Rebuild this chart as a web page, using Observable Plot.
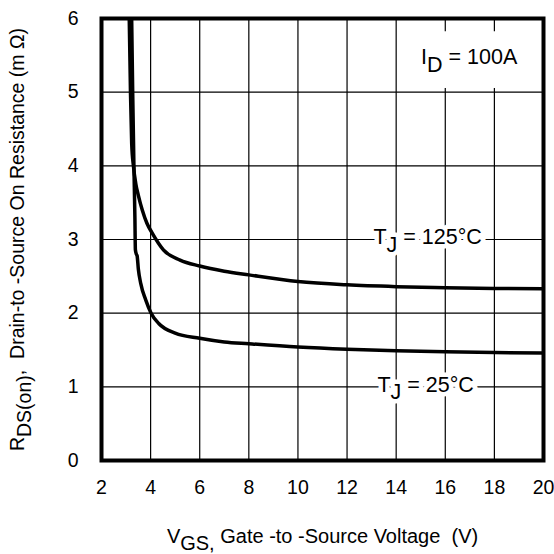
<!DOCTYPE html>
<html>
<head>
<meta charset="utf-8">
<script src="https://cdn.jsdelivr.net/npm/d3@7"></script>
<script src="https://cdn.jsdelivr.net/npm/@observablehq/plot@0.6"></script>
<style>
  html, body { margin: 0; padding: 0; background: #fff; }
  #chart svg { display: block; }
  #chart svg text { white-space: pre; }
</style>
</head>
<body>
<div id="chart"></div>
<script>
// ---- Data ----
const vgs25  = [3.22, 3.27, 3.32, 3.36, 3.38, 3.42, 3.45, 3.5, 3.6, 3.8, 4.02, 4.33, 5.0, 6, 7, 8, 10, 12, 14, 16, 18, 20];
const rds25  = [6.2, 5.0, 4.0, 3.3, 2.86, 2.8, 2.78, 2.6, 2.4, 2.18, 2.0, 1.86, 1.73, 1.66, 1.61, 1.585, 1.54, 1.51, 1.49, 1.475, 1.465, 1.46];
const vgs125 = [3.12, 3.18, 3.23, 3.3, 3.4, 3.5, 3.66, 3.85, 4.06, 4.52, 5.2, 6, 7, 8, 10, 12, 14, 16, 18, 20];
const rds125 = [6.2, 5.0, 4.3, 4.0, 3.75, 3.6, 3.4, 3.22, 3.09, 2.86, 2.72, 2.64, 2.57, 2.52, 2.43, 2.385, 2.36, 2.345, 2.335, 2.33];

const xTicks = [2, 4, 6, 8, 10, 12, 14, 16, 18, 20];
const yTicks = [0, 1, 2, 3, 4, 5, 6];

const curveLabels = ["T_{J} = 125°C", "T_{J} = 25°C"];
const curveLabelX = [15.28, 15.2];
const curveLabelY = [3, 1];

const condLabel = ["I_{D} = 100A"];
const condLabelX = [16.97];
const condLabelY = [5.47];
const condBoxX = [14.9, 19.9];
const condBoxY = [5.05, 5.82];

const xTitle = "V_{GS,} Gate -to -Source Voltage  (V)";
const yTitle = "R_{DS(on)},  Drain-to -Source On Resistance (m Ω)";

// ---- Build tables ----
const s25 = vgs25.map((v, i) => ({x: v, y: rds25[i]}));
const s125 = vgs125.map((v, i) => ({x: v, y: rds125[i]}));
const lab = curveLabels.map((t, i) => ({t, x: curveLabelX[i], y: curveLabelY[i]}));
const cond = condLabel.map((t, i) => ({t, x: condLabelX[i], y: condLabelY[i]}));
const box = [{x1: condBoxX[0], x2: condBoxX[1], y1: condBoxY[0], y2: condBoxY[1]}];

const FONT = "'Liberation Sans', Arial, Helvetica, sans-serif";

const chart = Plot.plot({
  width: 554,
  height: 554,
  marginLeft: 101,
  marginRight: 11,
  marginTop: 18,
  marginBottom: 94,
  style: {fontFamily: FONT, fontSize: "19.5px", background: "#fff", color: "#000"},
  x: {domain: [2, 20], ticks: xTicks},
  y: {domain: [0, 6], ticks: yTicks},
  marks: [
    Plot.gridX(xTicks, {stroke: "#000", strokeOpacity: 1, strokeWidth: 1.2}),
    Plot.gridY(yTicks, {stroke: "#000", strokeOpacity: 1, strokeWidth: 1.2}),
    Plot.rect(box, {x1: "x1", x2: "x2", y1: "y1", y2: "y2", fill: "#fff"}),
    Plot.line(s125, {x: "x", y: "y", stroke: "#000", strokeWidth: 3.5, curve: "monotone-x", clip: true}),
    Plot.line(s25, {x: "x", y: "y", stroke: "#000", strokeWidth: 3.5, curve: "monotone-x", clip: true}),
    Plot.text(lab, {x: "x", y: "y", text: "t", fontSize: 21.5, dy: -2, fill: "#000", stroke: "#fff", strokeWidth: 9, textAnchor: "middle"}),
    Plot.text(cond, {x: "x", y: "y", text: "t", fontSize: 21.5, fill: "#000", textAnchor: "middle"}),
    Plot.axisX(xTicks, {tickSize: 0, tickPadding: 20, label: null, fontSize: 19.5, tickFormat: d3.format("d")}),
    Plot.axisY(yTicks, {tickSize: 0, tickPadding: 23, label: null, fontSize: 19.5, tickFormat: d3.format("d")}),
    Plot.text([xTitle], {frameAnchor: "bottom", dy: 82, text: d => d, fontSize: 20, textAnchor: "middle"}),
    Plot.text([yTitle], {frameAnchor: "left", dx: -84, rotate: -90, text: d => d, fontSize: 19.5, textAnchor: "middle"}),
    Plot.frame({stroke: "#000", strokeWidth: 4})
  ]
});

// Render "_{...}" as subscripts with tspans (text stays real text)
const NS = "http://www.w3.org/2000/svg";
chart.querySelectorAll("text").forEach(el => {
  const s = el.textContent;
  if (!s.includes("_{")) return;
  const parts = s.split(/_\{([^}]*)\}/);
  el.textContent = "";
  let shifted = false;
  parts.forEach((p, i) => {
    const isSub = i % 2 === 1;
    if (p === "") return;
    const ts = document.createElementNS(NS, "tspan");
    ts.textContent = p;
    if (isSub && !shifted) { ts.setAttribute("dy", "0.35em"); shifted = true; }
    else if (!isSub && shifted) { ts.setAttribute("dy", "-0.35em"); shifted = false; }
    el.appendChild(ts);
  });
});

document.getElementById("chart").appendChild(chart);
</script>
</body>
</html>
